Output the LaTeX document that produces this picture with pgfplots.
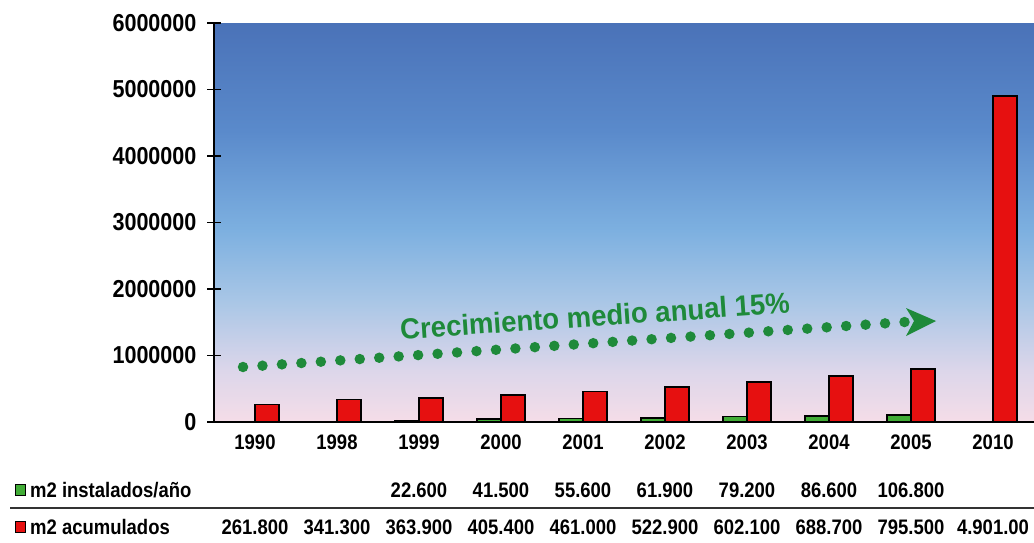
\documentclass[border=0pt]{standalone}
\usepackage{fontspec}
\setmainfont{Liberation Sans}[FakeStretch=0.88]
\newfontfamily\annfont{Liberation Sans}[FakeStretch=0.95]
\usepackage{pgfplots}
\pgfplotsset{compat=1.18}
\definecolor{c0}{HTML}{F5DDE8}
\definecolor{c1}{HTML}{DCD6EA}
\definecolor{c2}{HTML}{A8C6E6}
\definecolor{c3}{HTML}{7DB0E0}
\definecolor{c4}{HTML}{5A8ACB}
\definecolor{c5}{HTML}{4A72B8}
\definecolor{barred}{HTML}{E61010}
\definecolor{bargreen}{HTML}{41AC36}
\definecolor{anngreen}{HTML}{1E8A3A}
\pgfdeclareverticalshading{bgshade}{100bp}{color(0bp)=(c0); color(25bp)=(c0); color(31.5bp)=(c1); color(40.3bp)=(c2); color(49bp)=(c3); color(61.5bp)=(c4); color(75bp)=(c5); color(100bp)=(c5)}
\begin{document}
\begin{tikzpicture}
\useasboundingbox (0,0) rectangle (1034pt,542pt);
\begin{axis}[
  at={(214pt,120pt)}, anchor=south west,
  scale only axis, width=820pt, height=399pt,
  xmin=-0.5, xmax=9.5, ymin=0, ymax=6000000,
  axis lines*=left,
  axis line style={line width=1.6pt, black},
  axis background/.style={shade, shading=bgshade},
  ybar=0pt, bar width=24pt,
  xtick={0,...,9},
  xticklabels={1990,1998,1999,2000,2001,2002,2003,2004,2005,2010},
  x tick style={draw=none},
  scaled y ticks=false,
  ytick={0,1000000,2000000,3000000,4000000,5000000,6000000},
  yticklabels={0,1000000,2000000,3000000,4000000,5000000,6000000},
  tick align=center, major tick length=14pt,
  y tick style={line width=1.6pt, black},
  yticklabel style={font=\fontsize{24.5}{24.5}\selectfont\bfseries, xshift=-7pt},
  xticklabel style={font=\fontsize{21}{21}\selectfont\bfseries, yshift=-2pt},
  clip=false,
]
\addplot[fill=bargreen, draw=black, line width=1.5pt] coordinates {
 (2,22600) (3,41500) (4,55600) (5,61900) (6,79200) (7,86600) (8,106800)};
\addplot[fill=barred, draw=black, line width=1.5pt] coordinates {
 (0,261800) (1,341300) (2,363900) (3,405400) (4,461000) (5,522900) (6,602100) (7,688700) (8,795500) (9,4901000)};
% annotation
\draw[anngreen, line width=10.5pt, line cap=round, dash pattern=on 0pt off 19.5pt]
  (axis cs:-0.146,827068) -- (axis cs:7.927,1503759);
\fill[anngreen] (axis cs:8.305,1518797) -- (axis cs:7.939,1714286) -- (axis cs:8.037,1518797) -- (axis cs:7.939,1293233) -- cycle;
\node[anngreen, rotate=3.9, font=\annfont\fontsize{29}{29}\selectfont\bfseries] at (axis cs:4.146,1593985) {Crecimiento medio anual 15\%};
% table values
\begin{scope}[every node/.style={font=\fontsize{21}{21}\selectfont\bfseries}]
\node at ([yshift=-68pt]axis cs:2,0) {22.600};
\node at ([yshift=-68pt]axis cs:3,0) {41.500};
\node at ([yshift=-68pt]axis cs:4,0) {55.600};
\node at ([yshift=-68pt]axis cs:5,0) {61.900};
\node at ([yshift=-68pt]axis cs:6,0) {79.200};
\node at ([yshift=-68pt]axis cs:7,0) {86.600};
\node at ([yshift=-68pt]axis cs:8,0) {106.800};
\node at ([yshift=-105pt]axis cs:0,0) {261.800};
\node at ([yshift=-105pt]axis cs:1,0) {341.300};
\node at ([yshift=-105pt]axis cs:2,0) {363.900};
\node at ([yshift=-105pt]axis cs:3,0) {405.400};
\node at ([yshift=-105pt]axis cs:4,0) {461.000};
\node at ([yshift=-105pt]axis cs:5,0) {522.900};
\node at ([yshift=-105pt]axis cs:6,0) {602.100};
\node at ([yshift=-105pt]axis cs:7,0) {688.700};
\node at ([yshift=-105pt]axis cs:8,0) {795.500};
\node at ([yshift=-105pt]axis cs:9,0) {4.901.00};
\end{scope}
\end{axis}
\draw[line width=2pt, black!80] (10pt,34pt) -- (1034pt,34pt);
\filldraw[fill=bargreen, draw=black, line width=1pt] (15pt,47pt) rectangle (25pt,58pt);
\filldraw[fill=barred, draw=black, line width=1pt] (15pt,10pt) rectangle (25pt,21pt);
\node[anchor=west, inner sep=0pt, font=\fontsize{21}{21}\selectfont\bfseries] at (30pt,52pt) {m2 instalados/año};
\node[anchor=west, inner sep=0pt, font=\fontsize{21}{21}\selectfont\bfseries] at (30pt,15pt) {m2 acumulados};
\end{tikzpicture}
\end{document}
